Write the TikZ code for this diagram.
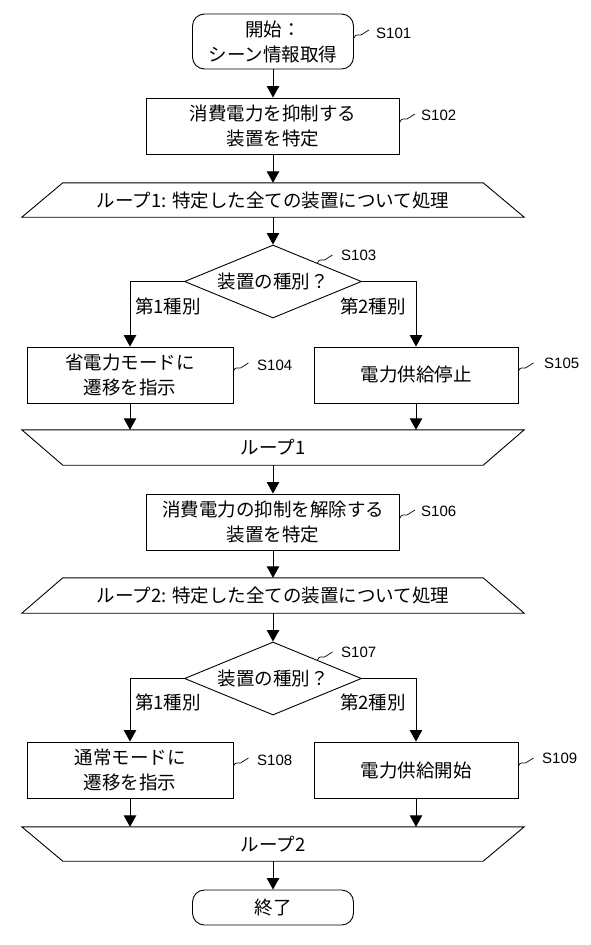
\documentclass[tikz,border=0pt]{standalone}
\usepackage{fontspec}
\setmainfont{Liberation Sans}
\newfontfamily\jp{Noto Sans CJK JP}
\usetikzlibrary{shapes.geometric,arrows.meta,calc}
\begin{document}
\begin{tikzpicture}[x=1pt,y=-1pt,
  jpf/.style={font=\jp\fontsize{18.5}{25}\selectfont},
  box/.style={draw, line width=0.9pt, rectangle, minimum height=56pt, inner sep=0pt, align=center, jpf},
  term/.style={box, rounded corners=12pt, minimum width=161pt},
  dec/.style={draw, line width=0.9pt, diamond, aspect=2.42, minimum width=177pt, minimum height=73pt, inner sep=0pt, jpf},
  loopn/.style={inner sep=0pt, jpf},
  arr/.style={line width=0.9pt, -{Triangle[width=12.5pt,length=11.5pt]}},
  ln/.style={line width=0.9pt},
  squig/.style={line width=0.7pt},
  slab/.style={font=\fontsize{15}{16}\selectfont, inner sep=0pt, anchor=west},
  brl/.style={jpf, inner sep=0pt}
]
\useasboundingbox (0,0) rectangle (591,945);

% nodes
\node[term, minimum height=55pt] (s101) at (273,41.5) {開始：\\シーン情報取得};
\node[box, minimum width=253pt] (s102) at (273,126) {消費電力を抑制する\\装置を特定};
\node[loopn, minimum width=420pt, minimum height=34pt] (l1) at (273,200) {ループ1: 特定した全ての装置について処理};
\draw[ln] (l1.north west) -- (l1.north east) -- ([xshift=41pt]l1.south east) -- ([xshift=-41pt]l1.south west) -- cycle;
\node[dec] (s103) at (273,281.5) {装置の種別？};
\node[brl, anchor=west] (b11) at (135,306) {第1種別};
\node[brl, anchor=east] (b12) at (406,306) {第2種別};
\node[box, minimum width=206pt] (s104) at (130,375) {省電力モードに\\遷移を指示};
\node[box, minimum width=204pt] (s105) at (416,375) {電力供給停止};
\node[loopn, minimum width=502pt, minimum height=35pt] (e1) at (273,447.5) {ループ1};
\draw[ln] (e1.north west) -- (e1.north east) -- ([xshift=-41pt]e1.south east) -- ([xshift=41pt]e1.south west) -- cycle;

\node[box, minimum width=253pt] (s106) at (273,522) {消費電力の抑制を解除する\\装置を特定};
\node[loopn, minimum width=420pt, minimum height=35pt] (l2) at (273,595.5) {ループ2: 特定した全ての装置について処理};
\draw[ln] (l2.north west) -- (l2.north east) -- ([xshift=41pt]l2.south east) -- ([xshift=-41pt]l2.south west) -- cycle;
\node[dec] (s107) at (273,678.5) {装置の種別？};
\node[brl, anchor=west] (b21) at (135,702) {第1種別};
\node[brl, anchor=east] (b22) at (406,702) {第2種別};
\node[box, minimum width=206pt] (s108) at (130,770) {通常モードに\\遷移を指示};
\node[box, minimum width=204pt] (s109) at (416,770) {電力供給開始};
\node[loopn, minimum width=502pt, minimum height=34pt] (e2) at (273,844) {ループ2};
\draw[ln] (e2.north west) -- (e2.north east) -- ([xshift=-41pt]e2.south east) -- ([xshift=41pt]e2.south west) -- cycle;
\node[term, minimum height=35pt] (end) at (273,907.5) {終了};

% connectors
\draw[arr] (s101.south) -- (s102.north);
\draw[arr] (s102.south) -- (l1.north);
\draw[arr] (l1.south) -- (s103.north);
\draw[arr] (s103.west) -| (s104.north);
\draw[arr] (s103.east) -| (s105.north);
\draw[arr] (s104.south) -- (s104.south |- e1.north);
\draw[arr] (s105.south) -- (s105.south |- e1.north);
\draw[arr] (e1.south) -- (s106.north);
\draw[arr] (s106.south) -- (l2.north);
\draw[arr] (l2.south) -- (s107.north);
\draw[arr] (s107.west) -| (s108.north);
\draw[arr] (s107.east) -| (s109.north);
\draw[arr] (s108.south) -- (s108.south |- e2.north);
\draw[arr] (s109.south) -- (s109.south |- e2.north);
\draw[arr] (e2.south) -- (end.north);

% step labels
\node[slab] (t101) at (376,33) {S101};
\node[slab] (t102) at (421,115) {S102};
\node[slab] (t103) at (341,255) {S103};
\node[slab] (t104) at (257,365) {S104};
\node[slab] (t105) at (544,363) {S105};
\node[slab] (t106) at (421,511) {S106};
\node[slab] (t107) at (341,652) {S107};
\node[slab] (t108) at (257,760) {S108};
\node[slab] (t109) at (542,758) {S109};

\draw[squig] (s101.east |- 0,38) .. controls +(2,-5) and +(-3,1) .. ++(7,-3) -- ++(8,-5);
\draw[squig] (s102.east |- 0,122) .. controls +(2,-5) and +(-3,1) .. ++(7,-3) -- ++(8,-5);
\draw[squig] ($(s103.north)!0.5!(s103.east)$) .. controls +(2,-5) and +(-3,1) .. ++(7,-3) -- ++(8,-5);
\draw[squig] (s104.east |- 0,371) .. controls +(2,-5) and +(-3,1) .. ++(7,-3) -- ++(8,-5);
\draw[squig] (s105.east |- 0,371) .. controls +(2,-5) and +(-3,1) .. ++(7,-3) -- ++(8,-5);
\draw[squig] (s106.east |- 0,518) .. controls +(2,-5) and +(-3,1) .. ++(7,-3) -- ++(8,-5);
\draw[squig] ($(s107.north)!0.5!(s107.east)$) .. controls +(2,-5) and +(-3,1) .. ++(7,-3) -- ++(8,-5);
\draw[squig] (s108.east |- 0,766) .. controls +(2,-5) and +(-3,1) .. ++(7,-3) -- ++(8,-5);
\draw[squig] (s109.east |- 0,766) .. controls +(2,-5) and +(-3,1) .. ++(7,-3) -- ++(8,-5);
\end{tikzpicture}
\end{document}
